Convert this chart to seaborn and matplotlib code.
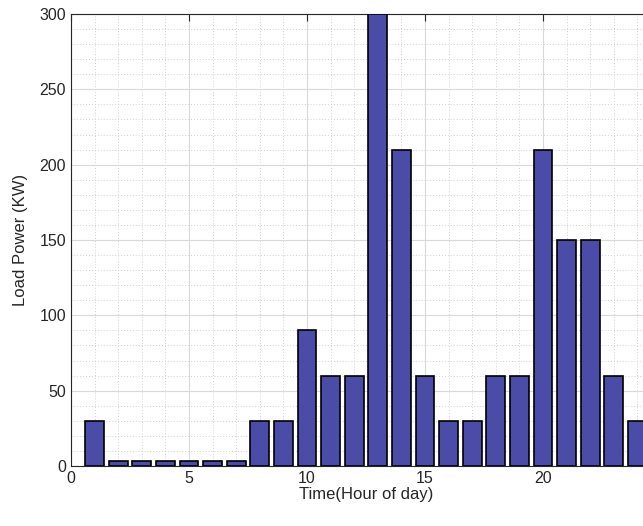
import numpy as np
import pandas as pd
import matplotlib
matplotlib.use("Agg")
import matplotlib.pyplot as plt
from matplotlib.ticker import MultipleLocator
import seaborn as sns

hours = list(range(1, 25))
load_kw = [30, 3, 3, 3, 3, 3, 3, 30, 30, 90, 60, 60,
           300, 210, 60, 30, 30, 60, 60, 210, 150, 150, 60, 30]
x_ticks = [0, 5, 10, 15, 20]

bar_color = "#4b4ba8"
axis_color = "#262626"


def main():
    sns.set_style("white")
    plt.rcParams["font.family"] = ["Liberation Sans", "DejaVu Sans"]
    df = pd.DataFrame({"hour": hours, "load": load_kw})

    fig = plt.figure(figsize=(6.43, 5.26), dpi=100)
    # axes run past the right edge of the figure, as in the reference
    ax = fig.add_axes([71 / 643, 60 / 526, 590 / 643, 452 / 526])

    sns.barplot(df, x="hour", y="load", native_scale=True, width=0.8,
                color=bar_color, saturation=1, edgecolor="black",
                linewidth=1.2, ax=ax, zorder=3)

    ax.set_xlim(0, 25)
    ax.set_ylim(0, 300)
    ax.set_xticks(x_ticks)
    ax.xaxis.set_minor_locator(MultipleLocator(1))
    ax.yaxis.set_major_locator(MultipleLocator(50))
    ax.yaxis.set_minor_locator(MultipleLocator(10))

    ax.grid(which="major", color="#d9d9d9", lw=0.8, ls="-", zorder=0)
    ax.grid(which="minor", color="#d0d0d0", lw=0.7, ls=(0, (1, 2)), zorder=0)
    ax.set_axisbelow(True)

    ax.tick_params(which="major", direction="in", length=5, width=0.8,
                   top=True, right=True, colors=axis_color, labelsize=11.5)
    ax.tick_params(which="minor", length=0)
    for sp in ax.spines.values():
        sp.set_color(axis_color)
        sp.set_linewidth(0.8)

    ax.set_xlabel("Time(Hour of day)", fontsize=12, color=axis_color, labelpad=1)
    ax.set_ylabel("Load Power (KW)", fontsize=12, color=axis_color, labelpad=8)

    fig.savefig("out.png", dpi=100)


if __name__ == "__main__":
    main()
